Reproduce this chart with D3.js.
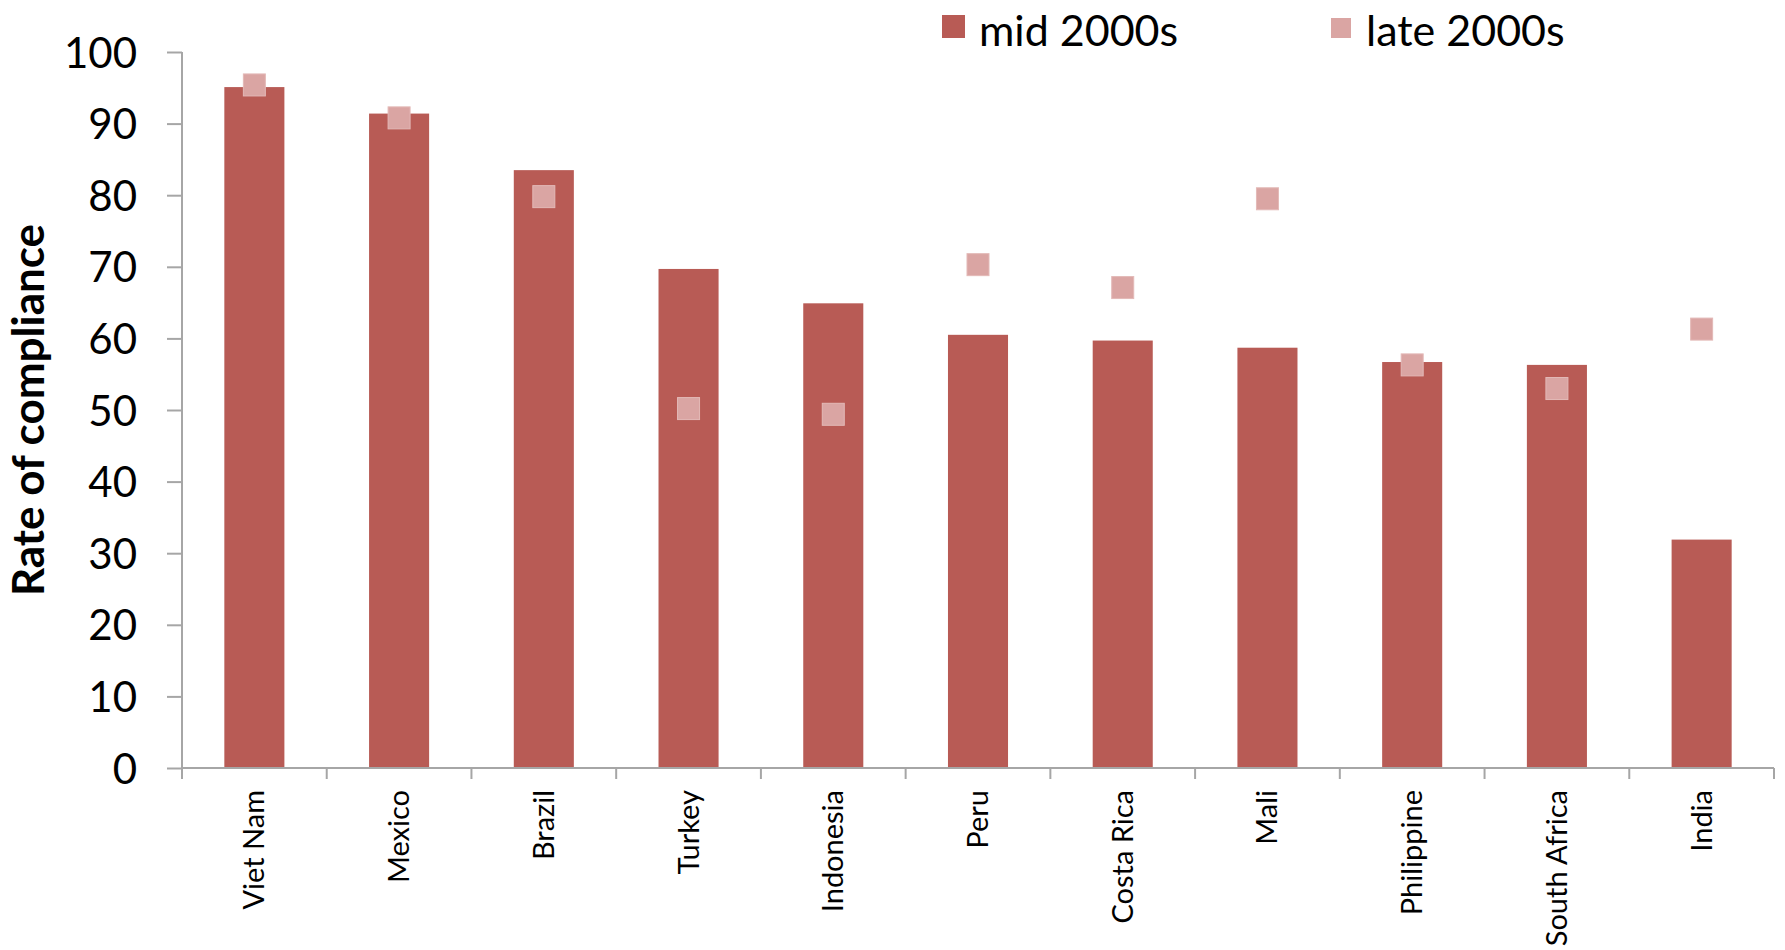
<!DOCTYPE html>
<html><head><meta charset="utf-8">
<script src="https://cdn.jsdelivr.net/npm/d3@7"></script>
<style>body{margin:0;background:#fff}svg{display:block}text{font-family:Lato,"Open Sans",sans-serif;fill:#000}</style>
</head><body><svg id="c" width="1785" height="950"></svg>
<script>
const categories = ["Viet Nam","Mexico","Brazil","Turkey","Indonesia","Peru","Costa Rica","Mali","Philippine","South Africa","India"];
const midValues  = [95.1, 91.4, 83.5, 69.7, 64.9, 60.5, 59.7, 58.7, 56.7, 56.3, 31.9];
const lateValues = [95.4, 90.8, 79.8, 50.2, 49.4, 70.3, 67.1, 79.5, 56.3, 53.0, 61.3];
const yTicks = [0,10,20,30,40,50,60,70,80,90,100];
const seriesNames = ["mid 2000s","late 2000s"];

const svg = d3.select("#c");
const barColor = "#B85B55", markColor = "#DAA5A3";
const x = d3.scaleBand().domain(categories).range([182, 1774]).paddingInner(0.585).paddingOuter(0.2925);
const y = d3.scaleLinear().domain([0,100]).range([768, 52]);

// bars
svg.append("g").selectAll("rect").data(categories).join("rect")
  .attr("x", d => x(d)).attr("width", x.bandwidth())
  .attr("y", (d,i) => y(midValues[i])).attr("height", (d,i) => y(0) - y(midValues[i]))
  .attr("fill", barColor);

// y axis
const yAxis = svg.append("g").attr("transform","translate(182,0)")
  .call(d3.axisLeft(y).tickValues(yTicks).tickSize(15).tickPadding(30));
yAxis.selectAll("path,line").attr("stroke","#A6A6A6").attr("stroke-width",2);
yAxis.select(".domain").attr("d","M0,52V768");
yAxis.selectAll("text").style("font-size","42px").attr("dy","0.36em").style("font-family","Lato, sans-serif");

// x axis
const xb = d3.scaleLinear().domain([0, categories.length]).range([182, 1774]);
const xAxisG = svg.append("g");
xAxisG.append("line").attr("x1",182).attr("x2",1774).attr("y1",768).attr("y2",768).attr("stroke","#A6A6A6").attr("stroke-width",2);
xAxisG.selectAll("line.t").data(d3.range(categories.length+1)).join("line").attr("class","t")
  .attr("x1", d => xb(d)).attr("x2", d => xb(d)).attr("y1",768).attr("y2",779)
  .attr("stroke","#A6A6A6").attr("stroke-width",2);
xAxisG.selectAll("text").data(categories).join("text")
  .attr("transform", d => `translate(${x(d)+x.bandwidth()/2+10},790) rotate(-90)`)
  .attr("text-anchor","end").style("font-size","29px").text(d => d);

// markers
const ms = 22;
svg.append("g").selectAll("rect").data(categories).join("rect")
  .attr("x", d => x(d)+x.bandwidth()/2-ms/2).attr("width", ms)
  .attr("y", (d,i) => y(lateValues[i])-ms/2).attr("height", ms)
  .attr("fill", markColor).attr("stroke","#E3B9B7").attr("stroke-width",1);

// y title
svg.append("text").attr("transform","translate(44,410) rotate(-90)").attr("text-anchor","middle")
  .style("font-size","44px").style("font-weight","bold").text("Rate of compliance");

// legend
const leg = [{n:seriesNames[0],c:barColor,x:942,tx:979},{n:seriesNames[1],c:markColor,x:1331,tx:1366}];
const lg = svg.append("g").selectAll("g").data(leg).join("g");
lg.append("rect").attr("x",d=>d.x).attr("y",d=>d.c===barColor?15:18).attr("width",d=>d.c===barColor?23:20).attr("height",d=>d.c===barColor?23:20).attr("fill",d=>d.c);
lg.append("text").attr("x",d=>d.tx).attr("y",31).attr("dy","0.36em").style("font-size","43px").text(d=>d.n);
</script></body></html>
